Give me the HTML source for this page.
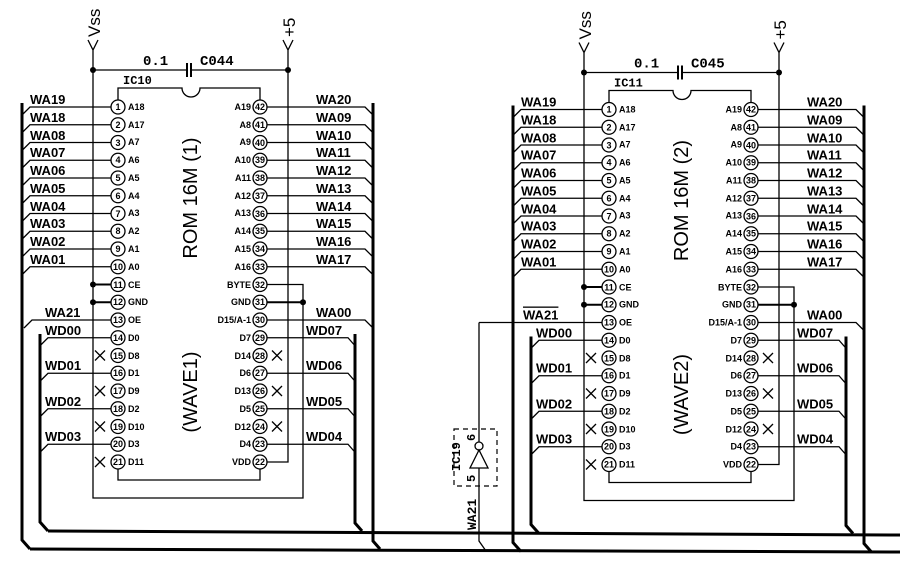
<!DOCTYPE html>
<html><head><meta charset="utf-8"><style>
html,body{margin:0;padding:0;background:#fff}
svg{display:block}
.t{stroke:#000;stroke-width:1.3;fill:none}
.b{stroke:#000;stroke-width:3;fill:none}
.m{stroke:#000;stroke-width:2;fill:none}
.c{fill:#fff;stroke:#000;stroke-width:1.3}
text{font-family:"Liberation Sans",sans-serif;fill:#000}
.lb{font-family:"Liberation Mono",monospace;font-weight:bold;font-size:13px}
.pn{font-size:9px;font-weight:bold}
.nu{font-size:9px;font-weight:bold;text-anchor:middle}
.big{font-size:20px;text-anchor:middle}
.hd{font-family:"Liberation Mono",monospace;font-size:14px;font-weight:bold}
.vs{font-family:"Liberation Sans",sans-serif;font-size:17px}
</style></head><body>
<svg width="900" height="577" viewBox="0 0 900 577" xmlns="http://www.w3.org/2000/svg">
<defs>
<g id="frame">
 <path class="t" d="M88,40 L93,50 L98,40 M93,50 V498 H303 V284.5 H267"/>
 <path class="t" d="M283,40 L288,50 L293,40 M288,50 V462 H267"/>
 <path class="t" d="M93,70 H187 M191,70 H288"/>
 <path class="m" d="M187,63 V77 M191,63 V77"/>
 <circle cx="93" cy="70" r="3"/><circle cx="288" cy="70" r="3"/>
 <path class="t" d="M118,100 V88 H182 A9,9 0 0 0 200,88 H260 V100"/>
 <path class="t" d="M118,469 V480 H260 V469"/>
 <path class="m" d="M93,284.5 H111 M93,302.25 H111 M267,302.25 H303"/>
 <circle cx="93" cy="284.5" r="3"/><circle cx="93" cy="302.25" r="3"/><circle cx="303" cy="302.25" r="3"/>
 <path class="t" d="M111,107 H30 L22,115 M111,124.75 H30 L22,132.75 M111,142.5 H30 L22,150.5 M111,160.25 H30 L22,168.25 M111,178 H30 L22,186 M111,195.75 H30 L22,203.75 M111,213.5 H30 L22,221.5 M111,231.25 H30 L22,239.25 M111,249 H30 L22,257 M111,266.75 H30 L22,274.75"/>
 <path class="t" d="M267,107 H365 L373,115 M267,124.75 H365 L373,132.75 M267,142.5 H365 L373,150.5 M267,160.25 H365 L373,168.25 M267,178 H365 L373,186 M267,195.75 H365 L373,203.75 M267,213.5 H365 L373,221.5 M267,231.25 H365 L373,239.25 M267,249 H365 L373,257 M267,266.75 H365 L373,274.75 M267,320 H365 L373,328"/>
 <path class="t" d="M111,337.75 H48 L40,345.75 M111,373.25 H48 L40,381.25 M111,408.75 H48 L40,416.75 M111,444.25 H48 L40,452.25"/>
 <path class="t" d="M267,337.75 H348 L355,345.75 M267,373.25 H348 L355,381.25 M267,408.75 H348 L355,416.75 M267,444.25 H348 L355,452.25"/>
 <path class="b" d="M22,103 V540 L30,549"/>
 <path class="b" d="M373,103 V541 L380,549"/>
 <path class="b" d="M40,334 V522 L48,531"/>
 <path class="b" d="M355,334 V523 L362,531"/>
 <path class="t" d="M95,350.5 L105,360.5 M105,350.5 L95,360.5 M95,386 L105,396 M105,386 L95,396 M95,421.5 L105,431.5 M105,421.5 L95,431.5 M95,457 L105,467 M105,457 L95,467"/>
 <path class="t" d="M272,350.5 L282,360.5 M282,350.5 L272,360.5 M272,386 L282,396 M282,386 L272,396 M272,421.5 L282,431.5 M282,421.5 L272,431.5"/>
 <g class="c">
 <circle cx="118" cy="107" r="7"/><circle cx="118" cy="124.75" r="7"/><circle cx="118" cy="142.5" r="7"/><circle cx="118" cy="160.25" r="7"/><circle cx="118" cy="178" r="7"/><circle cx="118" cy="195.75" r="7"/><circle cx="118" cy="213.5" r="7"/><circle cx="118" cy="231.25" r="7"/><circle cx="118" cy="249" r="7"/><circle cx="118" cy="266.75" r="7"/><circle cx="118" cy="284.5" r="7"/><circle cx="118" cy="302.25" r="7"/><circle cx="118" cy="320" r="7"/><circle cx="118" cy="337.75" r="7"/><circle cx="118" cy="355.5" r="7"/><circle cx="118" cy="373.25" r="7"/><circle cx="118" cy="391" r="7"/><circle cx="118" cy="408.75" r="7"/><circle cx="118" cy="426.5" r="7"/><circle cx="118" cy="444.25" r="7"/><circle cx="118" cy="462" r="7"/>
 <circle cx="260" cy="107" r="7"/><circle cx="260" cy="124.75" r="7"/><circle cx="260" cy="142.5" r="7"/><circle cx="260" cy="160.25" r="7"/><circle cx="260" cy="178" r="7"/><circle cx="260" cy="195.75" r="7"/><circle cx="260" cy="213.5" r="7"/><circle cx="260" cy="231.25" r="7"/><circle cx="260" cy="249" r="7"/><circle cx="260" cy="266.75" r="7"/><circle cx="260" cy="284.5" r="7"/><circle cx="260" cy="302.25" r="7"/><circle cx="260" cy="320" r="7"/><circle cx="260" cy="337.75" r="7"/><circle cx="260" cy="355.5" r="7"/><circle cx="260" cy="373.25" r="7"/><circle cx="260" cy="391" r="7"/><circle cx="260" cy="408.75" r="7"/><circle cx="260" cy="426.5" r="7"/><circle cx="260" cy="444.25" r="7"/><circle cx="260" cy="462" r="7"/>
 </g>
</g>
</defs>

<path class="b" d="M48,531 L900,535"/>
<path class="b" d="M30,549 L900,552"/>

<!-- CHIP 1 -->
<use href="#frame"/>
<path class="t" d="M111,320 H32 L24,328"/>
<g>
<text transform="translate(100,37) rotate(-90)" class="vs">Vss</text>
<text transform="translate(295,37) rotate(-90)" class="vs">+5</text>
<text x="143" y="65" class="hd">0.1</text><text x="200" y="65" class="hd">C044</text>
<text x="123" y="84" class="hd" style="font-size:12px">IC10</text>
<text transform="translate(197,198) rotate(-90)" class="big">ROM 16M (1)</text>
<text transform="translate(197,392) rotate(-90)" class="big">(WAVE1)</text>
<g class="lb">
<text x="30" y="104">WA19</text><text x="30" y="122">WA18</text><text x="30" y="140">WA08</text><text x="30" y="157">WA07</text><text x="30" y="175">WA06</text><text x="30" y="193">WA05</text><text x="30" y="211">WA04</text><text x="30" y="228">WA03</text><text x="30" y="246">WA02</text><text x="30" y="264">WA01</text>
<text x="45" y="317">WA21</text>
<text x="45" y="335">WD00</text><text x="45" y="370">WD01</text><text x="45" y="406">WD02</text><text x="45" y="441">WD03</text>
<text x="316" y="104">WA20</text><text x="316" y="122">WA09</text><text x="316" y="140">WA10</text><text x="316" y="157">WA11</text><text x="316" y="175">WA12</text><text x="316" y="193">WA13</text><text x="316" y="211">WA14</text><text x="316" y="228">WA15</text><text x="316" y="246">WA16</text><text x="316" y="264">WA17</text>
<text x="316" y="317">WA00</text>
<text x="306" y="335">WD07</text><text x="306" y="370">WD06</text><text x="306" y="406">WD05</text><text x="306" y="441">WD04</text>
</g>
<g class="pn">
<text x="128" y="110">A18</text><text x="128" y="128">A17</text><text x="128" y="145">A7</text><text x="128" y="163">A6</text><text x="128" y="181">A5</text><text x="128" y="199">A4</text><text x="128" y="216">A3</text><text x="128" y="234">A2</text><text x="128" y="252">A1</text><text x="128" y="270">A0</text><text x="128" y="288">CE</text><text x="128" y="305">GND</text><text x="128" y="323">OE</text><text x="128" y="341">D0</text><text x="128" y="359">D8</text><text x="128" y="376">D1</text><text x="128" y="394">D9</text><text x="128" y="412">D2</text><text x="128" y="430">D10</text><text x="128" y="447">D3</text><text x="128" y="465">D11</text>
</g>
<g class="pn" text-anchor="end">
<text x="251" y="110">A19</text><text x="251" y="128">A8</text><text x="251" y="145">A9</text><text x="251" y="163">A10</text><text x="251" y="181">A11</text><text x="251" y="199">A12</text><text x="251" y="216">A13</text><text x="251" y="234">A14</text><text x="251" y="252">A15</text><text x="251" y="270">A16</text><text x="251" y="288">BYTE</text><text x="251" y="305">GND</text><text x="251" y="323">D15/A-1</text><text x="251" y="341">D7</text><text x="251" y="359">D14</text><text x="251" y="376">D6</text><text x="251" y="394">D13</text><text x="251" y="412">D5</text><text x="251" y="430">D12</text><text x="251" y="447">D4</text><text x="251" y="465">VDD</text>
</g>
<g class="nu">
<text x="118" y="110">1</text><text x="118" y="128">2</text><text x="118" y="146">3</text><text x="118" y="163">4</text><text x="118" y="181">5</text><text x="118" y="199">6</text><text x="118" y="217">7</text><text x="118" y="234">8</text><text x="118" y="252">9</text><text x="118" y="270">10</text><text x="118" y="288">11</text><text x="118" y="305">12</text><text x="118" y="323">13</text><text x="118" y="341">14</text><text x="118" y="359">15</text><text x="118" y="376">16</text><text x="118" y="394">17</text><text x="118" y="412">18</text><text x="118" y="430">19</text><text x="118" y="447">20</text><text x="118" y="465">21</text>
<text x="260" y="110">42</text><text x="260" y="128">41</text><text x="260" y="146">40</text><text x="260" y="163">39</text><text x="260" y="181">38</text><text x="260" y="199">37</text><text x="260" y="217">36</text><text x="260" y="234">35</text><text x="260" y="252">34</text><text x="260" y="270">33</text><text x="260" y="288">32</text><text x="260" y="305">31</text><text x="260" y="323">30</text><text x="260" y="341">29</text><text x="260" y="359">28</text><text x="260" y="376">27</text><text x="260" y="394">26</text><text x="260" y="412">25</text><text x="260" y="430">24</text><text x="260" y="447">23</text><text x="260" y="465">22</text>
</g>
</g>

<!-- CHIP 2 -->
<g transform="translate(491,2.5)">
<use href="#frame"/>
<path class="t" d="M111,320 H-12"/>
<text transform="translate(100,37) rotate(-90)" class="vs">Vss</text>
<text transform="translate(295,37) rotate(-90)" class="vs">+5</text>
<text x="143" y="65" class="hd">0.1</text><text x="200" y="65" class="hd">C045</text>
<text x="123" y="84" class="hd" style="font-size:12px">IC11</text>
<text transform="translate(197,198) rotate(-90)" class="big">ROM 16M (2)</text>
<text transform="translate(197,392) rotate(-90)" class="big">(WAVE2)</text>
<g class="lb">
<text x="30" y="104">WA19</text><text x="30" y="122">WA18</text><text x="30" y="140">WA08</text><text x="30" y="157">WA07</text><text x="30" y="175">WA06</text><text x="30" y="193">WA05</text><text x="30" y="211">WA04</text><text x="30" y="228">WA03</text><text x="30" y="246">WA02</text><text x="30" y="264">WA01</text>
<text x="32" y="317" style="text-decoration:overline">WA21</text>
<text x="45" y="335">WD00</text><text x="45" y="370">WD01</text><text x="45" y="406">WD02</text><text x="45" y="441">WD03</text>
<text x="316" y="104">WA20</text><text x="316" y="122">WA09</text><text x="316" y="140">WA10</text><text x="316" y="157">WA11</text><text x="316" y="175">WA12</text><text x="316" y="193">WA13</text><text x="316" y="211">WA14</text><text x="316" y="228">WA15</text><text x="316" y="246">WA16</text><text x="316" y="264">WA17</text>
<text x="316" y="317">WA00</text>
<text x="306" y="335">WD07</text><text x="306" y="370">WD06</text><text x="306" y="406">WD05</text><text x="306" y="441">WD04</text>
</g>
<g class="pn">
<text x="128" y="110">A18</text><text x="128" y="128">A17</text><text x="128" y="145">A7</text><text x="128" y="163">A6</text><text x="128" y="181">A5</text><text x="128" y="199">A4</text><text x="128" y="216">A3</text><text x="128" y="234">A2</text><text x="128" y="252">A1</text><text x="128" y="270">A0</text><text x="128" y="288">CE</text><text x="128" y="305">GND</text><text x="128" y="323">OE</text><text x="128" y="341">D0</text><text x="128" y="359">D8</text><text x="128" y="376">D1</text><text x="128" y="394">D9</text><text x="128" y="412">D2</text><text x="128" y="430">D10</text><text x="128" y="447">D3</text><text x="128" y="465">D11</text>
</g>
<g class="pn" text-anchor="end">
<text x="251" y="110">A19</text><text x="251" y="128">A8</text><text x="251" y="145">A9</text><text x="251" y="163">A10</text><text x="251" y="181">A11</text><text x="251" y="199">A12</text><text x="251" y="216">A13</text><text x="251" y="234">A14</text><text x="251" y="252">A15</text><text x="251" y="270">A16</text><text x="251" y="288">BYTE</text><text x="251" y="305">GND</text><text x="251" y="323">D15/A-1</text><text x="251" y="341">D7</text><text x="251" y="359">D14</text><text x="251" y="376">D6</text><text x="251" y="394">D13</text><text x="251" y="412">D5</text><text x="251" y="430">D12</text><text x="251" y="447">D4</text><text x="251" y="465">VDD</text>
</g>
<g class="nu">
<text x="118" y="110">1</text><text x="118" y="128">2</text><text x="118" y="146">3</text><text x="118" y="163">4</text><text x="118" y="181">5</text><text x="118" y="199">6</text><text x="118" y="217">7</text><text x="118" y="234">8</text><text x="118" y="252">9</text><text x="118" y="270">10</text><text x="118" y="288">11</text><text x="118" y="305">12</text><text x="118" y="323">13</text><text x="118" y="341">14</text><text x="118" y="359">15</text><text x="118" y="376">16</text><text x="118" y="394">17</text><text x="118" y="412">18</text><text x="118" y="430">19</text><text x="118" y="447">20</text><text x="118" y="465">21</text>
<text x="260" y="110">42</text><text x="260" y="128">41</text><text x="260" y="146">40</text><text x="260" y="163">39</text><text x="260" y="181">38</text><text x="260" y="199">37</text><text x="260" y="217">36</text><text x="260" y="234">35</text><text x="260" y="252">34</text><text x="260" y="270">33</text><text x="260" y="288">32</text><text x="260" y="305">31</text><text x="260" y="323">30</text><text x="260" y="341">29</text><text x="260" y="359">28</text><text x="260" y="376">27</text><text x="260" y="394">26</text><text x="260" y="412">25</text><text x="260" y="430">24</text><text x="260" y="447">23</text><text x="260" y="465">22</text>
</g>
</g>

<!-- IC19 inverter -->
<path class="t" d="M479,322.5 V442 M479,468 V541 L486,551"/>
<circle cx="479" cy="446" r="4" fill="#fff" stroke="#000" stroke-width="1.3"/>
<path class="t" d="M479,450 L470,468 H488 Z"/>
<rect x="454" y="429" width="43" height="57" fill="none" stroke="#000" stroke-width="1.2" stroke-dasharray="5,4"/>
<text transform="translate(475,441) rotate(-90)" class="hd" style="font-size:12px">6</text>
<text transform="translate(475,482) rotate(-90)" class="hd" style="font-size:12px">5</text>
<text transform="translate(460,471) rotate(-90)" class="hd" style="font-size:12px">IC19</text>
<text transform="translate(476,530) rotate(-90)" class="lb">WA21</text>
</svg>
</body></html>
